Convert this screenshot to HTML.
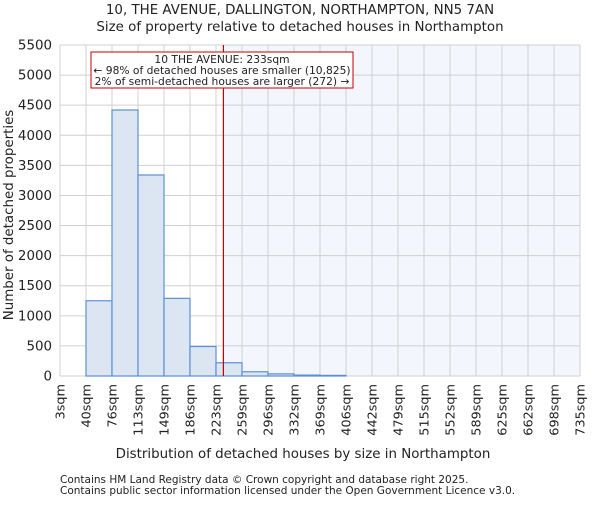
<!DOCTYPE html>
<html><head><meta charset="utf-8"><style>
body{margin:0;background:#fff;font-family:"Liberation Sans","DejaVu Sans",sans-serif;}
svg text{font-family:"DejaVu Sans","Liberation Sans",sans-serif;fill:#222;}
</style></head><body>
<svg id="chart" width="600" height="500" xmlns="http://www.w3.org/2000/svg">
<text x="300" y="14" font-size="13.4" text-anchor="middle">10, THE AVENUE, DALLINGTON, NORTHAMPTON, NN5 7AN</text>
<text x="300" y="31" font-size="13.4" text-anchor="middle">Size of property relative to detached houses in Northampton</text>
<g id="plot"></g>
<text x="303" y="458" font-size="13.4" text-anchor="middle">Distribution of detached houses by size in Northampton</text>
<text transform="translate(13,215) rotate(-90)" font-size="13.4" text-anchor="middle">Number of detached properties</text>
<text x="60" y="483" font-size="10.5">Contains HM Land Registry data © Crown copyright and database right 2025.</text>
<text x="60" y="494" font-size="10.5">Contains public sector information licensed under the Open Government Licence v3.0.</text>
</svg>
<script>
const binLabels=["3sqm","40sqm","76sqm","113sqm","149sqm","186sqm","223sqm","259sqm","296sqm","332sqm","369sqm","406sqm","442sqm","479sqm","515sqm","552sqm","589sqm","625sqm","662sqm","698sqm","735sqm"];
const binEdges=[3,39.6,76.2,112.8,149.4,186,222.6,259.2,295.8,332.4,369,405.6,442.2,478.8,515.4,552,588.6,625.2,661.8,698.4,735];
const counts=[0,1250,4420,3340,1290,490,220,70,35,15,10,0,0,0,0,0,0,0,0,0];
const yTicks=[0,500,1000,1500,2000,2500,3000,3500,4000,4500,5000,5500];
const subjectSize=233;
const NS="http://www.w3.org/2000/svg";
const L=60,R=580,T=45,B=376,yMax=5500;
const xs=v=>L+(v-binEdges[0])/(binEdges[binEdges.length-1]-binEdges[0])*(R-L);
const ys=v=>B-v/yMax*(B-T);
const g=document.getElementById('plot');
function mk(t,a){const e=document.createElementNS(NS,t);for(const k in a)e.setAttribute(k,a[k]);g.appendChild(e);return e;}
let e;
e=mk('rect',{x:xs(subjectSize),y:T,width:R-xs(subjectSize),height:B-T,fill:'#f3f6fd'});


binEdges.forEach(v=>{e=mk('line',{x1:xs(v),x2:xs(v),y1:T,y2:B,stroke:'#d0d0d0','stroke-width':1});

});
yTicks.forEach(v=>{e=mk('line',{x1:L,x2:R,y1:ys(v),y2:ys(v),stroke:'#d0d0d0','stroke-width':1});


e=mk('text',{x:L-8,y:ys(v)+4.5,'font-size':13.4,'text-anchor':'end'});e.textContent=v;

});
counts.forEach((c,i)=>{if(c<=0)return;const x0=xs(binEdges[i]),x1=xs(binEdges[i+1]);
e=mk('rect',{x:x0,y:ys(c),width:x1-x0,height:B-ys(c),fill:'#dce6f3',stroke:'#5b8fd6','stroke-width':1.2});

});
mk('line',{x1:L,x2:L,y1:T,y2:B,stroke:'#d0d0d0'});
binLabels.forEach((s,i)=>{const x=xs(binEdges[i]);e=mk('text',{transform:`translate(${x+4.5},384) rotate(-90)`,'font-size':12.8,'text-anchor':'end'});e.textContent=s;

});
e=mk('line',{x1:xs(subjectSize),x2:xs(subjectSize),y1:T,y2:B,stroke:'#c00000','stroke-width':1.2});


e=mk('rect',{x:91,y:52,width:262,height:36,fill:'#fff',stroke:'#c00000','stroke-width':1});


[["10 THE AVENUE: 233sqm",63],["← 98% of detached houses are smaller (10,825)",74],["2% of semi-detached houses are larger (272) →",85]].forEach(([t,y])=>{e=mk('text',{x:222,y:y,'font-size':10.7,'text-anchor':'middle'});e.textContent=t;

});
</script>
</body></html>
